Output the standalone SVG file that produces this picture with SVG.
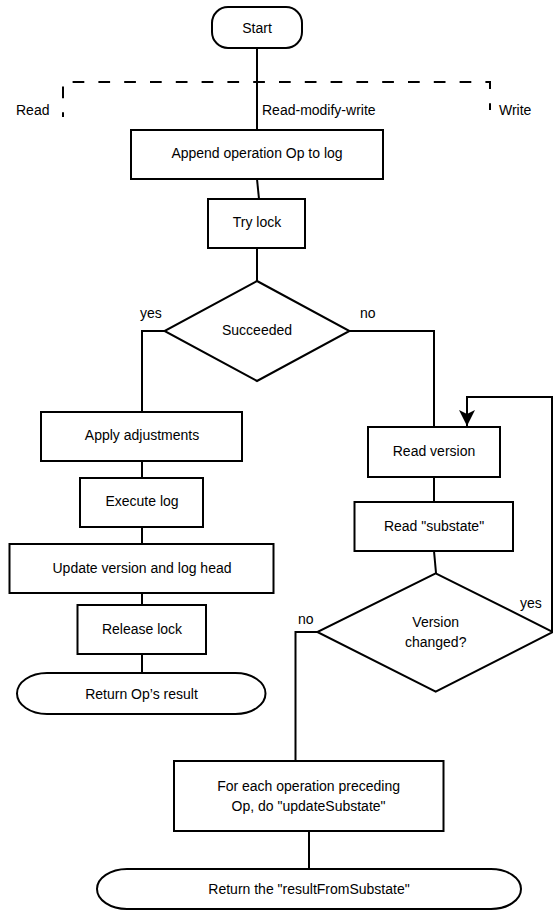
<svg xmlns="http://www.w3.org/2000/svg" width="553" height="911" viewBox="0 0 553 911">
<defs>
<style>
.s{fill:#fff;stroke:#000;stroke-width:2}
.c{fill:none;stroke:#000;stroke-width:2}
.d{fill:none;stroke:#000;stroke-width:2;stroke-dasharray:11.7 14.1;stroke-dashoffset:7}
text{font-family:"Liberation Sans",Arial,sans-serif;font-size:14px;fill:#000}
.m{text-anchor:middle}
</style>
<marker id="ah" viewBox="0 0 16 16" refX="16" refY="8" markerWidth="16" markerHeight="16" markerUnits="userSpaceOnUse" orient="auto">
<path d="M0,0 L16,8 L0,16 L4,8 Z" fill="#000"/>
</marker>
</defs>
<rect width="553" height="911" fill="#fff"/>
<g id="connectors">
<path class="d" d="M63,117 V82 H490 V110"/>
<path class="c" d="M257,48 V130"/>
<path class="c" d="M257,179 L259,199"/>
<path class="c" d="M257,248 V281"/>
<path class="c" d="M165,331 H142 V412"/>
<path class="c" d="M349,331 H434 V427"/>
<path class="c" d="M142,461 V478"/>
<path class="c" d="M142,527 V544"/>
<path class="c" d="M142,593 V605"/>
<path class="c" d="M142,654 V673"/>
<path class="c" d="M434,477 V502"/>
<path class="c" d="M434,551 L436,573"/>
<path class="c" d="M318,632 H295.5 V761"/>
<path class="c" d="M309,831 V869"/>
<path class="c" d="M553,632 L552,632 V397 H467 V426" marker-end="url(#ah)"/>
</g>
<g id="labels">
<text x="16" y="115">Read</text>
<text x="262" y="115">Read-modify-write</text>
<text x="499" y="115">Write</text>
<text x="140" y="318">yes</text>
<text x="360" y="318">no</text>
<text x="520" y="608">yes</text>
<text x="298" y="624">no</text>
</g>
<g id="start"><rect class="s" x="212" y="7" width="90" height="41" rx="16" ry="16"/><text class="m" x="257" y="32.5">Start</text></g>
<g id="append"><rect class="s" x="131" y="130" width="252" height="49"/><text class="m" x="257" y="158">Append operation Op to log</text></g>
<g id="trylock"><rect class="s" x="208" y="199" width="97" height="49"/><text class="m" x="257" y="227">Try lock</text></g>
<g id="succeeded"><polygon class="s" points="257,281 349.5,331 257,381 164.5,331"/><text class="m" x="257" y="335">Succeeded</text></g>
<g id="apply"><rect class="s" x="41" y="412" width="201" height="49"/><text class="m" x="142" y="440">Apply adjustments</text></g>
<g id="execute"><rect class="s" x="80" y="478" width="123" height="49"/><text class="m" x="142" y="506">Execute log</text></g>
<g id="update"><rect class="s" x="9.5" y="544" width="264" height="49"/><text class="m" x="142" y="573">Update version and log head</text></g>
<g id="release"><rect class="s" x="77.5" y="605" width="128.5" height="49"/><text class="m" x="142" y="634">Release lock</text></g>
<g id="returnop"><rect class="s" x="17" y="673" width="248.5" height="41" rx="30" ry="20.5"/><text class="m" x="141.5" y="699">Return Op’s result</text></g>
<g id="readversion"><rect class="s" x="368" y="427" width="132" height="50"/><text class="m" x="434" y="456">Read version</text></g>
<g id="readsubstate"><rect class="s" x="354.5" y="502" width="158.5" height="49"/><text class="m" x="434" y="531">Read "substate"</text></g>
<g id="versionchanged"><polygon class="s" points="435.7,573.3 553,632 435.7,691.7 317.3,632"/><text class="m" x="435.7" y="626.5">Version</text><text class="m" x="435.7" y="647.3">changed?</text></g>
<g id="foreach"><rect class="s" x="174" y="761" width="269.5" height="70"/><text class="m" x="308.6" y="790.5">For each operation preceding</text><text class="m" x="308.6" y="810.5">Op, do "updateSubstate"</text></g>
<g id="returnresult"><rect class="s" x="97" y="869" width="424" height="40" rx="30" ry="20"/><text class="m" x="309" y="893.5">Return the "resultFromSubstate"</text></g>
</svg>
